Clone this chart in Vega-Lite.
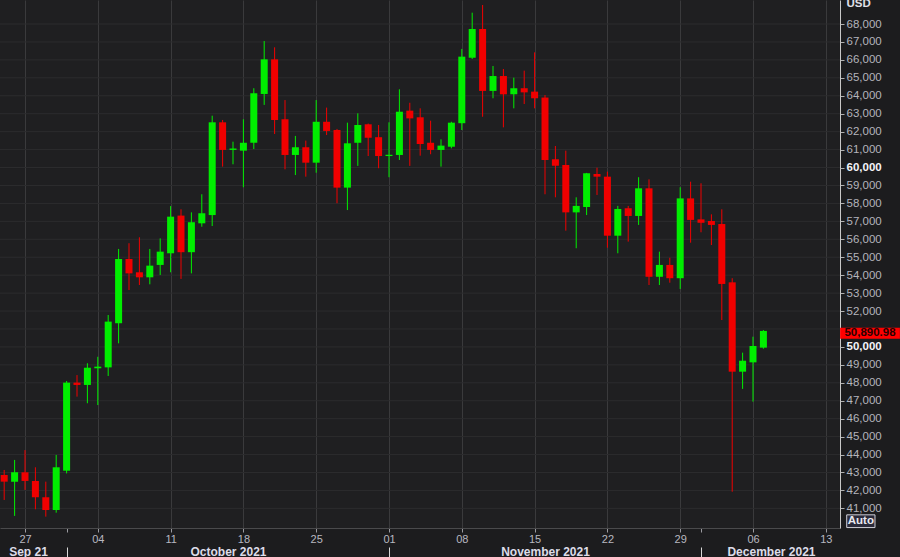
{
  "$schema": "https://vega.github.io/schema/vega-lite/v6.json",
  "width": 840,
  "height": 528,
  "autosize": {"type": "none"},
  "padding": {"left": 0, "top": 0, "right": 60, "bottom": 29},
  "background": "#1c1c1e",
  "view": {"stroke": null, "fill": "#1f1f21"},
  "config": {"font": "Liberation Sans"},
  "resolve": {"axis": {"x": "independent", "y": "independent"}},
  "layer": [
    {
      "data": {"values": [{"v": 41000}, {"v": 42000}, {"v": 43000}, {"v": 44000}, {"v": 45000}, {"v": 46000}, {"v": 47000}, {"v": 48000}, {"v": 49000}, {"v": 50000}, {"v": 51000}, {"v": 52000}, {"v": 53000}, {"v": 54000}, {"v": 55000}, {"v": 56000}, {"v": 57000}, {"v": 58000}, {"v": 59000}, {"v": 60000}, {"v": 61000}, {"v": 62000}, {"v": 63000}, {"v": 64000}, {"v": 65000}, {"v": 66000}, {"v": 67000}, {"v": 68000}]},
      "mark": {"type": "rule", "color": "#2c2c2e", "strokeWidth": 1},
      "encoding": {
        "y": {"field": "v", "type": "quantitative", "scale": {"domain": [39906, 69338], "zero": false, "nice": false, "padding": 0}, "axis": null}
      }
    },
    {
      "data": {"name": "ohlc", "values": [
        {"date": "2021-09-25", "open": 42860, "high": 43140, "low": 41470, "close": 42490},
        {"date": "2021-09-26", "open": 42490, "high": 43700, "low": 40580, "close": 43010},
        {"date": "2021-09-27", "open": 43010, "high": 44250, "low": 42030, "close": 42530},
        {"date": "2021-09-28", "open": 42530, "high": 43290, "low": 40950, "close": 41620},
        {"date": "2021-09-29", "open": 41620, "high": 42490, "low": 40540, "close": 40910},
        {"date": "2021-09-30", "open": 40910, "high": 43980, "low": 40760, "close": 43290},
        {"date": "2021-10-01", "open": 43100, "high": 48100, "low": 42950, "close": 48010},
        {"date": "2021-10-02", "open": 48010, "high": 48430, "low": 47230, "close": 47880},
        {"date": "2021-10-03", "open": 47880, "high": 49090, "low": 46860, "close": 48840},
        {"date": "2021-10-04", "open": 48810, "high": 49450, "low": 46760, "close": 48900},
        {"date": "2021-10-05", "open": 48860, "high": 51780, "low": 48380, "close": 51410},
        {"date": "2021-10-06", "open": 51320, "high": 55460, "low": 50200, "close": 54900},
        {"date": "2021-10-07", "open": 54900, "high": 55780, "low": 53170, "close": 54100},
        {"date": "2021-10-08", "open": 54160, "high": 56110, "low": 53450, "close": 53880},
        {"date": "2021-10-09", "open": 53880, "high": 55460, "low": 53490, "close": 54530},
        {"date": "2021-10-10", "open": 54570, "high": 56050, "low": 54010, "close": 55310},
        {"date": "2021-10-11", "open": 55220, "high": 57850, "low": 54160, "close": 57260},
        {"date": "2021-10-12", "open": 57320, "high": 57670, "low": 53790, "close": 55280},
        {"date": "2021-10-13", "open": 55280, "high": 57500, "low": 54100, "close": 56950},
        {"date": "2021-10-14", "open": 56890, "high": 58510, "low": 56700, "close": 57450},
        {"date": "2021-10-15", "open": 57350, "high": 62890, "low": 56740, "close": 62520},
        {"date": "2021-10-16", "open": 62520, "high": 62650, "low": 60050, "close": 60980},
        {"date": "2021-10-17", "open": 60980, "high": 61440, "low": 60180, "close": 61060},
        {"date": "2021-10-18", "open": 60940, "high": 62690, "low": 58900, "close": 61380},
        {"date": "2021-10-19", "open": 61380, "high": 64420, "low": 61030, "close": 64140},
        {"date": "2021-10-20", "open": 64100, "high": 67050, "low": 63490, "close": 66030},
        {"date": "2021-10-21", "open": 66030, "high": 66700, "low": 61870, "close": 62650},
        {"date": "2021-10-22", "open": 62690, "high": 63760, "low": 59900, "close": 60700},
        {"date": "2021-10-23", "open": 60700, "high": 61760, "low": 59580, "close": 61130},
        {"date": "2021-10-24", "open": 61130, "high": 61500, "low": 59490, "close": 60270},
        {"date": "2021-10-25", "open": 60270, "high": 63760, "low": 59710, "close": 62550},
        {"date": "2021-10-26", "open": 62550, "high": 63340, "low": 61810, "close": 62040},
        {"date": "2021-10-27", "open": 62090, "high": 62150, "low": 58010, "close": 58880},
        {"date": "2021-10-28", "open": 58880, "high": 62500, "low": 57630, "close": 61350},
        {"date": "2021-10-29", "open": 61380, "high": 63020, "low": 60090, "close": 62370},
        {"date": "2021-10-30", "open": 62410, "high": 62450, "low": 60640, "close": 61660},
        {"date": "2021-10-31", "open": 61690, "high": 62370, "low": 59960, "close": 60640},
        {"date": "2021-11-01", "open": 60640, "high": 62520, "low": 59460, "close": 60710},
        {"date": "2021-11-02", "open": 60700, "high": 64360, "low": 60420, "close": 63110},
        {"date": "2021-11-03", "open": 63170, "high": 63610, "low": 60090, "close": 62740},
        {"date": "2021-11-04", "open": 62800, "high": 63300, "low": 60660, "close": 61310},
        {"date": "2021-11-05", "open": 61380, "high": 62610, "low": 60740, "close": 60980},
        {"date": "2021-11-06", "open": 60980, "high": 61570, "low": 60050, "close": 61220},
        {"date": "2021-11-07", "open": 61160, "high": 62550, "low": 61070, "close": 62500},
        {"date": "2021-11-08", "open": 62470, "high": 66610, "low": 62090, "close": 66180},
        {"date": "2021-11-09", "open": 66120, "high": 68630, "low": 66050, "close": 67720},
        {"date": "2021-11-10", "open": 67720, "high": 69060, "low": 62830, "close": 64270},
        {"date": "2021-11-11", "open": 64270, "high": 65660, "low": 63860, "close": 65100},
        {"date": "2021-11-12", "open": 65100, "high": 65490, "low": 62240, "close": 64080},
        {"date": "2021-11-13", "open": 64080, "high": 65010, "low": 63300, "close": 64420},
        {"date": "2021-11-14", "open": 64420, "high": 65400, "low": 63540, "close": 64190},
        {"date": "2021-11-15", "open": 64230, "high": 66420, "low": 63300, "close": 63860},
        {"date": "2021-11-16", "open": 63900, "high": 64040, "low": 58510, "close": 60420},
        {"date": "2021-11-17", "open": 60460, "high": 61200, "low": 58340, "close": 60100},
        {"date": "2021-11-18", "open": 60140, "high": 60940, "low": 56480, "close": 57500},
        {"date": "2021-11-19", "open": 57500, "high": 58340, "low": 55500, "close": 57860},
        {"date": "2021-11-20", "open": 57800, "high": 59700, "low": 57350, "close": 59680},
        {"date": "2021-11-21", "open": 59640, "high": 59990, "low": 58470, "close": 59490},
        {"date": "2021-11-22", "open": 59490, "high": 59770, "low": 55530, "close": 56200},
        {"date": "2021-11-23", "open": 56200, "high": 57860, "low": 55220, "close": 57690},
        {"date": "2021-11-24", "open": 57730, "high": 57860, "low": 55870, "close": 57300},
        {"date": "2021-11-25", "open": 57300, "high": 59460, "low": 56800, "close": 58840},
        {"date": "2021-11-26", "open": 58840, "high": 59340, "low": 53450, "close": 53910},
        {"date": "2021-11-27", "open": 53910, "high": 55310, "low": 53450, "close": 54570},
        {"date": "2021-11-28", "open": 54570, "high": 54970, "low": 53580, "close": 53830},
        {"date": "2021-11-29", "open": 53830, "high": 58900, "low": 53230, "close": 58280},
        {"date": "2021-11-30", "open": 58280, "high": 59210, "low": 55810, "close": 57080},
        {"date": "2021-12-01", "open": 57110, "high": 59120, "low": 56390, "close": 56920},
        {"date": "2021-12-02", "open": 57020, "high": 57390, "low": 55680, "close": 56800},
        {"date": "2021-12-03", "open": 56850, "high": 57670, "low": 51500, "close": 53510},
        {"date": "2021-12-04", "open": 53600, "high": 53830, "low": 41930, "close": 48620},
        {"date": "2021-12-05", "open": 48620, "high": 49680, "low": 47660, "close": 49230},
        {"date": "2021-12-06", "open": 49140, "high": 50570, "low": 46950, "close": 50050},
        {"date": "2021-12-07", "open": 49960, "high": 50940, "low": 49900, "close": 50890.98}
      ]},
      "mark": {"type": "rule", "strokeWidth": 1},
      "encoding": {
        "x": {
          "field": "date", "type": "temporal",
          "scale": {"type": "utc", "domain": [1632493094400, 1639471536000], "padding": 0},
          "axis": {
            "orient": "bottom",
            "values": [1632700800000, 1633046400000, 1633305600000, 1633910400000, 1634515200000, 1635120000000, 1635724800000, 1636329600000, 1636934400000, 1637539200000, 1638144000000, 1638316800000, 1638748800000, 1639353600000],
            "labelExpr": "(utcdate(datum.value) == 1 && utcmonth(datum.value) != 10) ? '' : utcFormat(datum.value, '%d')",
            "title": null,
            "grid": true,
            "gridColor": {"condition": {"test": "utcdate(datum.value) == 1 && utcmonth(datum.value) != 10", "value": "transparent"}, "value": "#3a3a3c"},
            "gridWidth": 1,
            "domainColor": "#4a4a4c",
            "tickColor": "#9a9aa0",
            "tickSize": 4,
            "labelBaseline": "alphabetic",
            "labelPadding": 10,
            "labelColor": "#b8b8c0",
            "labelFontSize": 11,
            "labelFont": "Liberation Sans"
          }
        },
        "y": {
          "field": "low", "type": "quantitative",
          "axis": {
            "orient": "right",
            "values": [41000, 42000, 43000, 44000, 45000, 46000, 47000, 48000, 49000, 52000, 53000, 54000, 55000, 56000, 57000, 58000, 59000, 61000, 62000, 63000, 64000, 65000, 66000, 67000, 68000],
            "format": ",d",
            "grid": false,
            "domainColor": "#c8c8c8",
            "tickColor": "#b0b0b0",
            "tickSize": 4,
            "labelPadding": 2,
            "labelFontSize": 11.5,
            "labelFont": "Liberation Sans",
            "labelColor": "#b4b4bc",
            "title": "USD",
            "titleAngle": 0,
            "titleAlign": "left",
            "titleBaseline": "middle",
            "titleX": 6,
            "titleY": 3,
            "titleFontSize": 11.5,
            "titleFontWeight": "bold",
            "titleColor": "#e0e0e8"
          }
        },
        "y2": {"field": "high"},
        "color": {"condition": {"test": "datum.close >= datum.open", "value": "#00ee00"}, "value": "#f00000"}
      }
    },
    {
      "data": {"name": "ohlc"},
      "mark": {"type": "bar", "width": 7},
      "encoding": {
        "x": {
          "field": "date", "type": "temporal",
          "axis": {
            "orient": "bottom",
            "values": [1632726000000, 1634387400000, 1637020800000, 1638898200000],
            "labelExpr": "utcmonth(datum.value) == 8 ? 'Sep 21' : utcmonth(datum.value) == 9 ? 'October 2021' : utcmonth(datum.value) == 10 ? 'November 2021' : 'December 2021'",
            "title": null,
            "grid": false,
            "ticks": false,
            "tickSize": 0,
            "domain": false,
            "labelBaseline": "alphabetic",
            "labelPadding": 27,
            "labelFontSize": 12,
            "labelFontWeight": "bold",
            "labelColor": "#dcdce8",
            "labelFont": "Liberation Sans"
          }
        },
        "y": {
          "field": "open", "type": "quantitative",
          "axis": {
            "orient": "right",
            "values": [50000, 60000],
            "format": ",d",
            "grid": false,
            "domain": false,
            "ticks": true,
            "tickSize": 4,
            "tickColor": "#b0b0b0",
            "labelPadding": 2,
            "labelFontSize": 11.5,
            "labelFont": "Liberation Sans",
            "labelFontWeight": "bold",
            "labelColor": "#f4f4f8",
            "title": null
          }
        },
        "y2": {"field": "close"},
        "color": {"condition": {"test": "datum.close >= datum.open", "value": "#00ee00"}, "value": "#f00000"}
      }
    },
    {
      "data": {"values": [{"label": "50,890.98"}]},
      "mark": {"type": "rect", "fill": "#ff0000"},
      "encoding": {
        "x": {
          "datum": 1639472400000, "type": "temporal",
          "axis": {
            "orient": "bottom",
            "values": [1633046400000, 1635724800000, 1638316800000],
            "labels": false,
            "title": null,
            "grid": false,
            "domain": false,
            "offset": 19,
            "tickSize": 10,
            "tickColor": "#d8d8d8"
          }
        },
        "x2": {"datum": 1639969200000},
        "y": {"datum": 51070, "type": "quantitative", "axis": null},
        "y2": {"datum": 50450}
      }
    },
    {
      "data": {"values": [{"label": "50,890.98"}]},
      "mark": {"type": "text", "fontSize": 11.5, "fontWeight": "bold", "align": "center", "baseline": "middle", "fill": "#2a0000"},
      "encoding": {
        "x": {"datum": 1639721000000, "type": "temporal", "axis": null},
        "y": {"datum": 50760, "type": "quantitative", "axis": null},
        "text": {"field": "label"}
      }
    },
    {
      "data": {"values": [{"label": "Auto"}]},
      "mark": {"type": "rect", "fill": "#2a2a3a", "stroke": "#d0d0d8", "strokeWidth": 1},
      "encoding": {
        "x": {"datum": 1639527300000, "type": "temporal", "axis": null},
        "x2": {"datum": 1639762200000},
        "y": {"datum": 40640, "type": "quantitative", "axis": null},
        "y2": {"datum": 39930}
      }
    },
    {
      "data": {"values": [{"label": "Auto"}]},
      "mark": {"type": "text", "fontSize": 11.5, "fontWeight": "bold", "align": "center", "baseline": "middle", "fill": "#e8e8f0"},
      "encoding": {
        "x": {"datum": 1639644800000, "type": "temporal", "axis": null},
        "y": {"datum": 40280, "type": "quantitative", "axis": null},
        "text": {"field": "label"}
      }
    }
  ]
}
